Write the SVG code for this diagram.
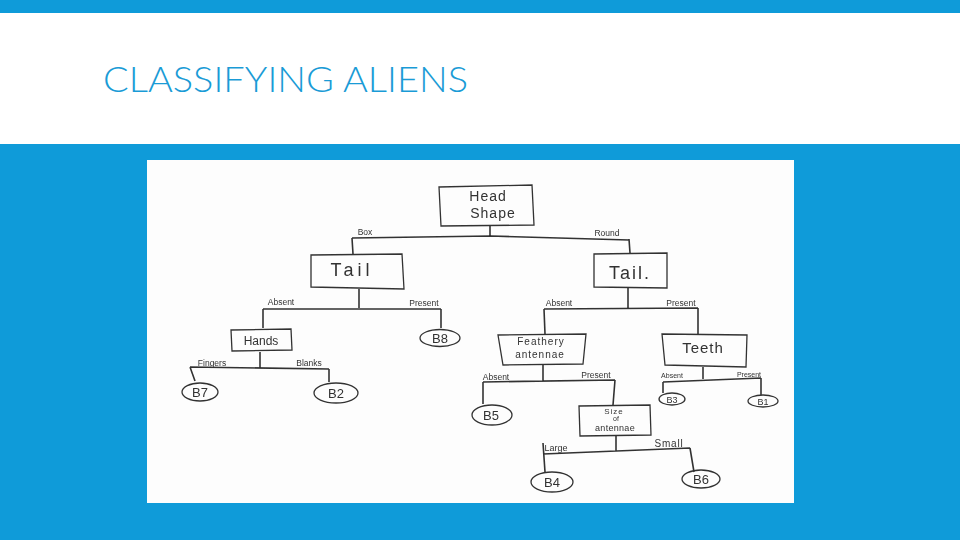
<svg xmlns="http://www.w3.org/2000/svg" width="960" height="540" viewBox="0 0 960 540">
<defs><filter id="soft" x="-5%" y="-5%" width="110%" height="110%"><feGaussianBlur stdDeviation="0.4"/></filter></defs>
<style>
.box,.oval,.line{fill:none;stroke:#333;stroke-width:1.3}
.line{stroke-width:1.6}
text{font-family:"Liberation Sans",Arial,sans-serif;fill:#333;text-anchor:middle}
.n{font-size:13px}
.big{font-size:18px}
.l{font-size:8.5px}
.s{font-size:9px}
</style>
<rect width="960" height="540" fill="#0f9bd9"/>
<rect y="13" width="960" height="131" fill="#fff"/>
<text x="103" y="92" textLength="365" lengthAdjust="spacingAndGlyphs" style="font-family:Lato,'Open Sans',sans-serif;font-size:35px;font-weight:300;fill:#1a9bd6;text-anchor:start">CLASSIFYING ALIENS</text>
<rect x="147" y="160" width="647" height="343" fill="#fdfdfd"/>
<g filter="url(#soft)">
<g id="connectors" class="line">
<path class="line" d="M490 226V236M352 238L491 236L629 240M352 238L353 254M629 239L630 253"/>
<path class="line" d="M359 289V308M263 309L441 309M263 309V328M441 309V328"/>
<path class="line" d="M260 352V368M190 367L329 369M190 367L195 381M329 369V382"/>
<path class="line" d="M628 287V308M544 309L698 308M544 309L545 334M698 308V334"/>
<path class="line" d="M543 365V382M483 382L615 380M483 382V404M615 380L613 405"/>
<path class="line" d="M703 367V379M663 382L761 378M663 382V393M761 378V395"/>
<path class="line" d="M616 436V451M543 454L690 448M543 443L545 472M690 448L694 472"/>
</g>
<g id="head-shape"><path class="box" d="M439 187L532 185L534 225L441 226Z"/><text class="n" x="488" y="201" style="font-size:14px;letter-spacing:1px">Head</text><text class="n" x="493" y="218" style="font-size:14px;letter-spacing:1px">Shape</text></g>
<g id="tail-left"><path class="box" d="M311 255L402 254L404 289L311 287Z"/><text class="big" x="352" y="276" style="letter-spacing:4px">Tail</text></g>
<g id="tail-right"><path class="box" d="M594 254L667 253L667 288L594 287Z"/><text class="big" x="630" y="279" style="letter-spacing:2px">Tail.</text></g>
<g id="hands"><path class="box" d="M231 330L291 329L292 350L232 351Z"/><text class="n" x="261" y="345" style="font-size:12px">Hands</text></g>
<g id="feathery"><path class="box" d="M498 335L586 334L583 364L503 365Z"/><text class="l" x="541" y="345" style="font-size:10px;letter-spacing:1px">Feathery</text><text class="l" x="540" y="358" style="font-size:10px;letter-spacing:1px">antennae</text></g>
<g id="teeth"><path class="box" d="M662 334L747 335L746 367L665 365Z"/><text class="n" x="703" y="353" style="font-size:15px;letter-spacing:1px">Teeth</text></g>
<g id="size"><path class="box" d="M579 406L650 405L651 435L580 436Z"/><text class="s" x="614" y="414" style="font-size:8px;letter-spacing:1px">Size</text><text class="s" x="616" y="421" style="font-size:7px">of</text><text class="s" x="615" y="431" style="letter-spacing:.3px">antennae</text></g>
<g id="b8"><ellipse class="oval" cx="440" cy="338" rx="20" ry="8.5"/><text class="n" x="440" y="343">B8</text></g>
<g id="b7"><ellipse class="oval" cx="200" cy="392" rx="18" ry="9"/><text class="n" x="200" y="397">B7</text></g>
<g id="b2"><ellipse class="oval" cx="336" cy="393" rx="22" ry="10"/><text class="n" x="336" y="398">B2</text></g>
<g id="b5"><ellipse class="oval" cx="492" cy="415" rx="20" ry="10"/><text class="n" x="491" y="420">B5</text></g>
<g id="b3"><ellipse class="oval" cx="672" cy="399" rx="13" ry="6"/><text class="s" x="672" y="403">B3</text></g>
<g id="b1"><ellipse class="oval" cx="763" cy="401" rx="15" ry="6"/><text class="s" x="763" y="405">B1</text></g>
<g id="b4"><ellipse class="oval" cx="552" cy="482" rx="21" ry="10"/><text class="n" x="552" y="487">B4</text></g>
<g id="b6"><ellipse class="oval" cx="701" cy="479" rx="19" ry="9"/><text class="n" x="701" y="484">B6</text></g>
<g id="labels">
<text class="l" x="365" y="235">Box</text>
<text class="l" x="607" y="236">Round</text>
<text class="l" x="281" y="305">Absent</text>
<text class="l" x="424" y="306">Present</text>
<text class="l" x="212" y="366">Fingers</text>
<text class="l" x="309" y="366">Blanks</text>
<text class="l" x="559" y="306">Absent</text>
<text class="l" x="681" y="306">Present</text>
<text class="l" x="496" y="380">Absent</text>
<text class="l" x="596" y="378">Present</text>
<text class="l" x="672" y="378" style="font-size:7px">Absent</text>
<text class="l" x="749" y="377" style="font-size:7px">Present</text>
<text class="s" x="556" y="451">Large</text>
<text class="s" x="669" y="447" style="font-size:10px;letter-spacing:.8px">Small</text>
</g>
</g>
</svg>
